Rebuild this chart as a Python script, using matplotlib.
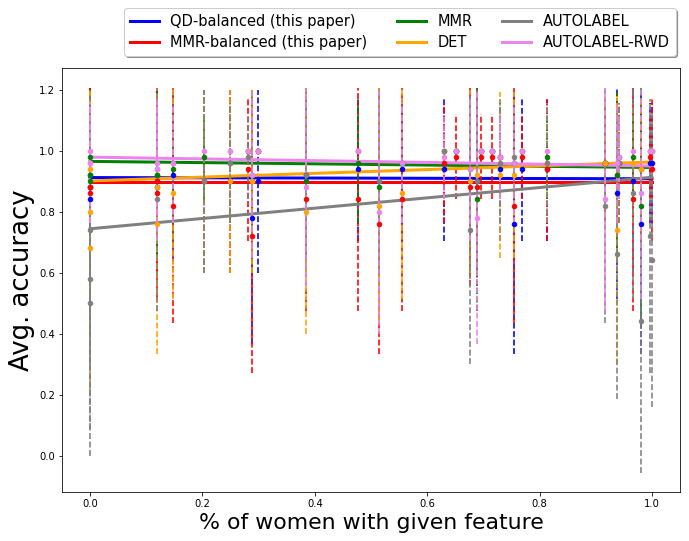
import numpy as np
import matplotlib
matplotlib.use("Agg")
import matplotlib.pyplot as plt

# fraction of women among images with each feature (one entry per feature)
feature_x = [0.0, 0.0, 0.0, 0.119, 0.119, 0.147, 0.202, 0.249, 0.281, 0.289,
             0.298, 0.384, 0.476, 0.515, 0.556, 0.630, 0.652, 0.677, 0.688, 0.696,
             0.715, 0.729, 0.754, 0.768, 0.814, 0.917, 0.938, 0.942, 0.966, 0.981,
             0.996, 1.0]

# average accuracy per feature for each method
qd_acc = [0.92, 0.88, 0.84, 0.90, 0.88, 0.92, 0.90, 0.90, 1.00, 0.78,
          0.90, 0.92, 0.94, 0.90, 0.94, 0.94, 1.00, 0.90, 0.90, 1.00,
          1.00, 0.94, 0.76, 0.94, 0.94, 0.96, 0.86, 0.96, 0.90, 0.76,
          0.96, 0.96]
mmrb_acc = [0.88, 0.86, 0.88, 0.90, 0.86, 0.82, 0.90, 0.90, 0.94, 0.72,
            1.00, 0.84, 0.84, 0.76, 0.84, 0.96, 0.98, 0.88, 0.88, 0.98,
            0.98, 0.98, 0.82, 0.98, 0.94, 0.96, 0.92, 0.96, 0.84, 0.94,
            0.98, 0.94]
mmr_acc = [0.98, 0.92, 0.90, 0.92, 0.92, 0.94, 0.98, 0.96, 1.00, 0.90,
           1.00, 0.90, 0.96, 0.88, 0.96, 1.00, 1.00, 0.94, 0.84, 1.00,
           1.00, 0.98, 0.96, 1.00, 0.98, 0.96, 0.92, 0.98, 0.98, 0.82,
           1.00, 1.00]
det_acc = [0.94, 0.80, 0.68, 0.88, 0.76, 0.86, 0.90, 0.90, 1.00, 0.90,
           1.00, 0.80, 1.00, 0.82, 0.86, 1.00, 1.00, 0.90, 0.92, 1.00,
           1.00, 0.92, 0.92, 1.00, 0.96, 0.96, 0.74, 0.96, 0.96, 0.94,
           1.00, 1.00]
auto_acc = [0.74, 0.58, 0.50, 0.94, 0.84, 0.96, 0.90, 0.96, 0.98, 0.92,
            1.00, 0.92, 1.00, 0.90, 0.96, 1.00, 1.00, 0.74, 0.90, 1.00,
            1.00, 0.96, 0.98, 1.00, 0.96, 0.82, 0.66, 0.96, 0.86, 0.44,
            0.72, 0.64]
rwd_acc = [1.00, 0.96, 0.96, 0.96, 0.94, 0.96, 1.00, 1.00, 1.00, 0.92,
           1.00, 0.88, 1.00, 0.80, 0.96, 0.98, 1.00, 0.94, 0.78, 1.00,
           1.00, 0.98, 0.96, 1.00, 1.00, 0.84, 0.96, 0.98, 1.00, 0.86,
           1.00, 1.00]

method_names = ["QD-balanced (this paper)", "MMR-balanced (this paper)", "MMR",
                "DET", "AUTOLABEL", "AUTOLABEL-RWD"]
method_colors = ["blue", "red", "green", "orange", "gray", "violet"]

# linear trend of each method, value at x=0 and at x=1
trend_at0 = [0.912, 0.897, 0.965, 0.901, 0.744, 0.979]
trend_at1 = [0.908, 0.897, 0.945, 0.963, 0.913, 0.950]

all_acc = [qd_acc, mmrb_acc, mmr_acc, det_acc, auto_acc, rwd_acc]

fig = plt.figure(figsize=(689 / 72, 541 / 72), dpi=72)
ax = fig.add_axes([0.090, 0.0906, 0.897, 0.783])

for name, acc, col, a0, a1 in zip(method_names, all_acc, method_colors, trend_at0, trend_at1):
    acc = np.array(acc)
    err = np.sqrt(acc * (1 - acc))  # std of per-image correctness
    eb = ax.errorbar(feature_x, acc, yerr=err, fmt='o', color=col, ms=4.5, elinewidth=1.6)
    eb[2][0].set_linestyle('--')
    ax.plot([0, 1], [a0, a1], color=col, lw=3, label=name)

ax.set_xlabel('% of women with given feature', fontsize=22)
ax.set_ylabel('Avg. accuracy', fontsize=26)
ax.legend(ncol=3, fontsize=14.6, shadow=True, loc='lower right',
          bbox_to_anchor=(1.0, 1.02), borderaxespad=0.3, labelspacing=0.4)

fig.savefig('out.png', dpi=72)
